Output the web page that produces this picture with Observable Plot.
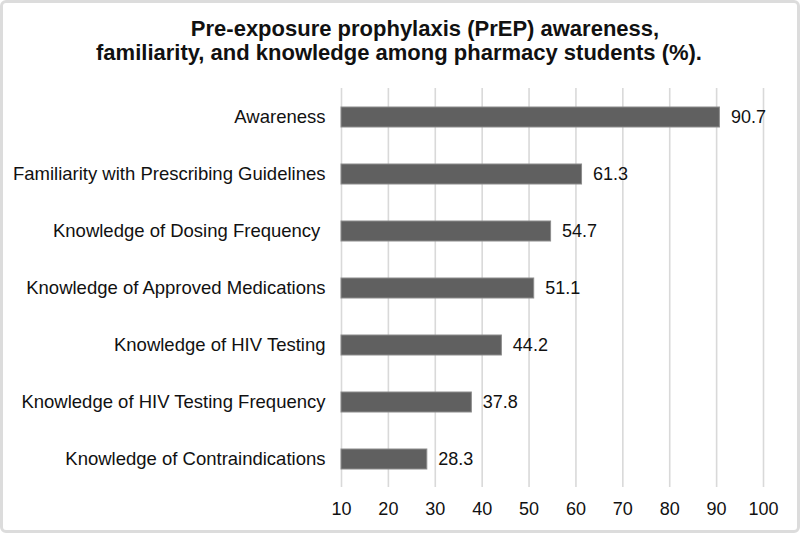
<!DOCTYPE html>
<html><head><meta charset="utf-8">
<script src="https://cdn.jsdelivr.net/npm/d3@7"></script>
<script src="https://cdn.jsdelivr.net/npm/@observablehq/plot@0.6"></script>
<style>
body{margin:0;background:#fff;}
#wrap{position:relative;width:800px;height:533px;background:#fff;overflow:hidden;font-family:"Liberation Sans",Arial,sans-serif;}
#title{position:relative;width:800px;height:88px;}
.tl{position:absolute;white-space:nowrap;transform:translateX(-50%);font-weight:bold;font-size:22px;line-height:22px;color:#111;}
#frame{position:absolute;left:0;top:0;width:800px;height:533px;box-sizing:border-box;border:3px solid #dcdcdc;border-radius:6px;pointer-events:none;}
</style></head>
<body><div id="wrap">
<div id="title"><div class="tl" style="left:425px;top:18px">Pre-exposure prophylaxis (PrEP) awareness,</div><div class="tl" style="left:399px;top:42px">familiarity, and knowledge among pharmacy students (%).</div></div>
<div id="chart"></div>
<div id="frame"></div></div>
<script>
const categories = ["Awareness","Familiarity with Prescribing Guidelines","Knowledge of Dosing Frequency ","Knowledge of Approved Medications","Knowledge of HIV Testing","Knowledge of HIV Testing Frequency","Knowledge of Contraindications"];
const values = [90.7,61.3,54.7,51.1,44.2,37.8,28.3];
const xTicks = [10,20,30,40,50,60,70,80,90,100];
const data = categories.map((c,i)=>({category:c,value:values[i]}));
const font = '"Liberation Sans",Arial,sans-serif';
const plot = Plot.plot({
  width:800, height:445,
  marginTop:0, marginBottom:46, marginLeft:341, marginRight:37,
  style:{fontFamily:font,fontSize:"18px",color:"#111",background:"transparent",overflow:"visible"},
  x:{domain:[10,100],label:null},
  y:{domain:categories,paddingInner:0.65,paddingOuter:0.325,label:null},
  marks:[
    Plot.ruleX(xTicks,{stroke:"#d9d9d9",strokeWidth:1.6}),
    Plot.barX(data,{x1:10,x2:"value",y:"category",fill:"#606060",stroke:"#8c8c8c",strokeWidth:1}),
    Plot.text(data,{x:"value",y:"category",text:d=>d.value.toFixed(1),textAnchor:"start",dx:11,fontSize:18,fill:"#111"}),
    Plot.axisX({ticks:xTicks,tickSize:0,tickPadding:15,fontSize:18,fill:"#111",label:null}),
    Plot.axisY({tickSize:0,tickPadding:16,fontSize:18.5,fill:"#111",label:null,tickFormat:d=>d.replace(/ $/,"\u00a0")})
  ]
});
document.getElementById("chart").appendChild(plot);
</script></body></html>
